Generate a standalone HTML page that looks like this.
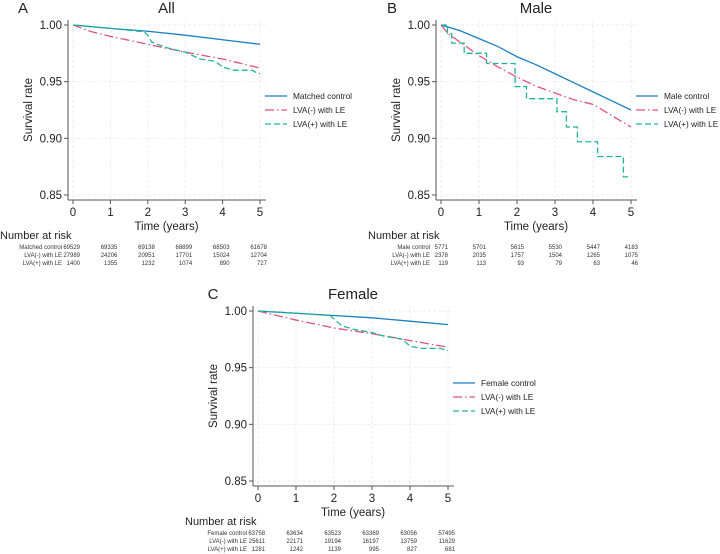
<!DOCTYPE html>
<html><head><meta charset="utf-8"><style>
body{margin:0;background:#fff;}
svg{display:block;font-family:"Liberation Sans",Arial,sans-serif;}
</style></head><body>
<svg id="chart" width="720" height="554" viewBox="0 0 720 554"></svg>
<script>
// ---- data ----
const yTicks = [1.00, 0.95, 0.90, 0.85];
const xTicks = [0, 1, 2, 3, 4, 5];
const seriesNames = ["LVA(-) with LE", "LVA(+) with LE"];
// Panel A: All
const aControlT = [0, 1, 2, 3, 4, 5];
const aControlS = [1, 0.997, 0.9945, 0.991, 0.987, 0.983];
const aNegT = [0, 0.5, 1, 2, 3, 4, 5];
const aNegS = [1, 0.994, 0.990, 0.983, 0.976, 0.970, 0.962];
const aPosT = [0, 1, 1.9, 2.0, 2.1, 2.5, 3, 3.4, 3.8, 4.0, 4.3, 4.8, 4.9, 5];
const aPosS = [1, 0.997, 0.994, 0.991, 0.985, 0.980, 0.976, 0.970, 0.968, 0.963, 0.960, 0.960, 0.958, 0.957];
const aRiskControl = ["69529","69335","69138","68899","68503","61678"];
const aRiskNeg = ["27989","24206","20951","17701","15024","12704"];
const aRiskPos = ["1400","1355","1232","1074","890","727"];
// Panel B: Male
const bControlT = [0, 0.5, 1, 1.5, 2, 2.5, 3, 3.5, 4, 4.5, 5];
const bControlS = [1, 0.995, 0.988, 0.981, 0.972, 0.965, 0.957, 0.949, 0.941, 0.933, 0.925];
const bNegT = [0, 0.2, 0.5, 1, 1.5, 2, 2.5, 3, 3.5, 4, 4.5, 5];
const bNegS = [1, 0.992, 0.985, 0.973, 0.963, 0.954, 0.946, 0.940, 0.934, 0.930, 0.920, 0.910];
const bPosT = [0, 0.17, 0.28, 0.61, 1.2, 1.95, 2.25, 3.05, 3.3, 3.59, 4.12, 4.8, 5];
const bPosS = [1, 0.9926, 0.984, 0.975, 0.966, 0.9456, 0.935, 0.9235, 0.910, 0.897, 0.884, 0.866, 0.866];
const bRiskControl = ["5771","5701","5615","5530","5447","4183"];
const bRiskNeg = ["2378","2035","1757","1504","1265","1075"];
const bRiskPos = ["119","113","93","79","63","46"];
// Panel C: Female
const cControlT = [0, 1, 2, 3, 4, 5];
const cControlS = [1, 0.998, 0.996, 0.994, 0.991, 0.988];
const cNegT = [0, 1, 2, 3, 4, 5];
const cNegS = [1, 0.992, 0.985, 0.980, 0.974, 0.968];
const cPosT = [0, 1, 1.9, 2.0, 2.2, 2.5, 3, 3.3, 3.8, 4.0, 4.3, 4.8, 5];
const cPosS = [1, 0.998, 0.996, 0.993, 0.987, 0.984, 0.981, 0.978, 0.975, 0.969, 0.967, 0.967, 0.965];
const cRiskControl = ["63758","63634","63523","63369","63056","57495"];
const cRiskNeg = ["25611","22171","19194","16197","13759","11629"];
const cRiskPos = ["1281","1242","1139","995","827","681"];

const NS = "http://www.w3.org/2000/svg";
const svg = document.getElementById("chart");
function el(tag, attrs, parent, text) {
  const e = document.createElementNS(NS, tag);
  for (const k in attrs) e.setAttribute(k, attrs[k]);
  if (text !== undefined) e.textContent = text;
  (parent || svg).appendChild(e);
  return e;
}
const COLORS = ["#1b7fc4", "#e0507a", "#1fb597"];
const DASH = ["", "9,3,1.5,3", "6,3"];

function panel(cfg) {
  const g = el("g", {});
  
  
  const x = t => cfg.x0 + (cfg.x5 - cfg.x0) * t / 5;
  const y = s => cfg.y1 + (cfg.y85 - cfg.y1) * (1 - s) / 0.15;
  const axL = cfg.x0 - 5, axB = cfg.y85 + 5, axR = cfg.x5 + 6;
  yTicks.forEach(v => {
    const l = el("line", {x1: axL, x2: axR, y1: y(v), y2: y(v), stroke: "#e6e6e6", "stroke-width": 0.7, "stroke-dasharray": "3,2"}, g);
    
    
  });
  xTicks.forEach(v => {
    const l = el("line", {x1: x(v), x2: x(v), y1: cfg.y1 - 5, y2: axB, stroke: "#e6e6e6", "stroke-width": 0.7, "stroke-dasharray": "3,2"}, g);
    
    
  });
  const ya = el("line", {x1: axL, x2: axL, y1: cfg.y1 - 5, y2: axB, stroke: "#555", "stroke-width": 1}, g);
  
  
  const xa = el("line", {x1: axL, x2: axR, y1: axB, y2: axB, stroke: "#555", "stroke-width": 1}, g);
  
  
  yTicks.forEach(v => {
    el("line", {x1: axL - 4, x2: axL, y1: y(v), y2: y(v), stroke: "#555"}, g);
    const t = el("text", {x: axL - 6, y: y(v) + 4, "text-anchor": "end", "font-size": 11.5, fill: "#222"}, g, v.toFixed(2));
    
    
  });
  xTicks.forEach(v => {
    el("line", {x1: x(v), x2: x(v), y1: axB, y2: axB + 4, stroke: "#555"}, g);
    const t = el("text", {x: x(v), y: axB + 16, "text-anchor": "middle", "font-size": 11.5, fill: "#222"}, g, String(v));
    
    
  });
  const yt = el("text", {x: 0, y: 0, "text-anchor": "middle", "font-size": 11.5, fill: "#222", transform: `translate(${axL - 36},${(cfg.y1 + cfg.y85) / 2}) rotate(-90)`}, g, "Survival rate");
  
  
  const xt = el("text", {x: (cfg.x0 + cfg.x5) / 2, y: axB + 30, "text-anchor": "middle", "font-size": 11.5, fill: "#222"}, g, "Time (years)");
  
  
  const tt = el("text", {x: (cfg.x0 + cfg.x5) / 2, y: cfg.y1 - 12, "text-anchor": "middle", "font-size": 15, fill: "#222"}, g, cfg.title);
  
  
  const lt = el("text", {x: cfg.letterX, y: cfg.y1 - 12, "text-anchor": "middle", "font-size": 15, fill: "#222"}, g, cfg.letter);
  
  
  cfg.series.forEach((sr, i) => {
    let d = "";
    sr.t.forEach((t, j) => {
      if (j === 0) d += `M${x(t)},${y(sr.s[j])}`;
      else if (sr.step) d += `H${x(t)}V${y(sr.s[j])}`;
      else d += `L${x(t)},${y(sr.s[j])}`;
    });
    const p = el("path", {d: d, fill: "none", stroke: COLORS[i], "stroke-width": 1.3, "stroke-dasharray": DASH[i]}, g);
    
    
  });
  const names = [cfg.controlName].concat(seriesNames);
  names.forEach((n, i) => {
    const ly = cfg.legY + i * 14;
    el("line", {x1: cfg.legX, x2: cfg.legX + 22, y1: ly, y2: ly, stroke: COLORS[i], "stroke-width": 1.3, "stroke-dasharray": DASH[i]}, g);
    const t = el("text", {x: cfg.legX + 28, y: ly + 3, "font-size": 8.3, fill: "#222"}, g, n);
    
    
  });
  const nr = el("text", {x: cfg.nrX, y: axB + 39, "font-size": 11, fill: "#222"}, g, "Number at risk");
  
  
  const rows = [[cfg.controlName, cfg.risk[0]], ["LVA(-) with LE", cfg.risk[1]], ["LVA(+) with LE", cfg.risk[2]]];
  rows.forEach((r, i) => {
    const ry = axB + 49 + i * 8;
    const lab = el("text", {x: x(0) - 11, y: ry, "text-anchor": "end", "font-size": 6, fill: "#333"}, g, r[0]);
    
    
    r[1].forEach((v, j) => {
      const t = el("text", {x: x(j) + 7, y: ry, "text-anchor": "end", "font-size": 6, fill: "#333"}, g, v);
      
      
    });
  });
}

panel({key: "all", title: "All", letter: "A", letterX: 23, x0: 73, x5: 260, y1: 25, y85: 195,
  legX: 265, legY: 96, nrX: 0, controlName: "Matched control",
  series: [{t: aControlT, s: aControlS}, {t: aNegT, s: aNegS}, {t: aPosT, s: aPosS}],
  risk: [aRiskControl, aRiskNeg, aRiskPos]});
panel({key: "male", title: "Male", letter: "B", letterX: 392, x0: 441, x5: 631, y1: 25, y85: 195,
  legX: 636, legY: 96, nrX: 368, controlName: "Male control",
  series: [{t: bControlT, s: bControlS}, {t: bNegT, s: bNegS}, {t: bPosT, s: bPosS, step: true}],
  risk: [bRiskControl, bRiskNeg, bRiskPos]});
panel({key: "female", title: "Female", letter: "C", letterX: 213, x0: 258, x5: 448, y1: 311, y85: 481,
  legX: 453, legY: 383, nrX: 185, controlName: "Female control",
  series: [{t: cControlT, s: cControlS}, {t: cNegT, s: cNegS}, {t: cPosT, s: cPosS}],
  risk: [cRiskControl, cRiskNeg, cRiskPos]});
</script>
</body></html>
